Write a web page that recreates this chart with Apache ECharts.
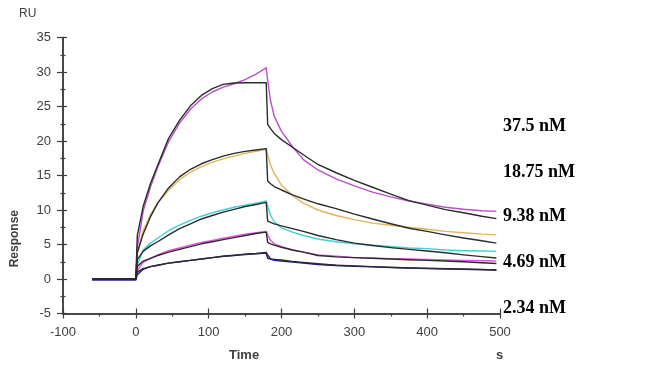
<!DOCTYPE html>
<html><head><meta charset="utf-8">
<script src="https://cdn.jsdelivr.net/npm/echarts@6/dist/echarts.min.js"></script>
<style>html,body{margin:0;padding:0;background:#fff}#c{width:650px;height:376px}</style>
</head><body><div id="c"></div>
<script>
// time points (s)
const T = [-60,-30,0,2,10,20,30,45,60,75,90,105,120,135,150,165,179,181,185,190,200,215,230,250,275,300,325,350,375,400,425,450,475,495];
// concentration labels
const concLabels = ['37.5 nM','18.75 nM','9.38 nM','4.69 nM','2.34 nM'];
// measured data (RU)
const data375 = [-0.1,-0.1,-0.1,4.5,9.8,13.3,16.2,19.9,22.6,24.6,26.1,27.1,27.8,28.3,28.9,29.7,30.6,28.8,25.8,23.6,21.4,19.2,17.3,15.8,14.5,13.5,12.6,11.9,11.3,10.85,10.4,10.1,9.9,9.8];
const data1875 = [-0.1,-0.1,-0.1,3.8,7.0,9.3,11.0,12.9,14.4,15.5,16.3,16.9,17.4,17.8,18.2,18.5,18.8,18.0,16.5,15.3,13.6,12.1,11.0,10.0,9.2,8.6,8.1,7.8,7.5,7.2,6.9,6.7,6.5,6.4];
const data938 = [-0.1,-0.1,-0.1,2.0,4.2,5.2,5.9,7.0,7.8,8.5,9.1,9.6,10.0,10.4,10.7,11.0,11.3,10.6,9.2,8.3,7.4,6.8,6.3,5.8,5.4,5.1,4.9,4.7,4.5,4.4,4.2,4.1,4.05,4.0];
const data469 = [-0.1,-0.1,-0.1,1.2,2.4,3.0,3.5,4.1,4.5,4.9,5.3,5.6,5.9,6.2,6.5,6.7,6.9,6.4,5.6,5.1,4.7,4.2,3.9,3.5,3.3,3.1,3.0,2.95,2.9,2.85,2.75,2.7,2.65,2.6];
const data234 = [-0.1,-0.1,-0.1,0.6,1.4,1.8,2.0,2.3,2.5,2.7,2.9,3.1,3.3,3.45,3.6,3.7,3.85,3.5,2.9,2.7,2.6,2.45,2.3,2.1,1.95,1.85,1.75,1.65,1.6,1.5,1.45,1.4,1.35,1.3];
// fitted curves (RU)
const fit375 = [0,0,0,6.3,10.5,13.8,16.5,20.4,23.0,25.1,26.6,27.6,28.2,28.4,28.45,28.45,28.45,22.4,21.8,21.1,20.2,19.1,18.0,16.6,15.4,14.3,13.3,12.3,11.35,10.7,10.05,9.6,9.1,8.75];
const fit1875 = [0,0,0,3.8,6.5,9.0,11.0,13.2,14.8,15.9,16.7,17.3,17.8,18.2,18.5,18.7,18.9,14.2,13.8,13.4,12.9,12.2,11.6,10.9,10.2,9.4,8.7,8.0,7.35,6.9,6.4,5.95,5.55,5.2];
const fit938 = [0,0,0,2.8,4.0,4.8,5.4,6.4,7.3,8.0,8.7,9.2,9.7,10.1,10.5,10.8,11.1,8.4,8.2,8.0,7.7,7.3,6.9,6.3,5.7,5.2,4.85,4.55,4.3,4.05,3.8,3.5,3.25,3.05];
const fit469 = [0,0,0,1.8,2.6,3.0,3.4,3.9,4.3,4.7,5.1,5.4,5.7,6.0,6.3,6.6,6.8,5.3,5.1,4.9,4.6,4.2,3.9,3.4,3.2,3.1,3.0,2.9,2.8,2.7,2.6,2.5,2.35,2.25];
const fit234 = [0,0,0,1.0,1.5,1.8,2.0,2.3,2.5,2.7,2.9,3.1,3.3,3.4,3.55,3.65,3.75,3.0,2.9,2.85,2.75,2.55,2.4,2.2,2.0,1.9,1.8,1.7,1.6,1.55,1.5,1.45,1.4,1.3];

const dataColors = ['#b94fc9','#e3b45a','#3fd0d0','#e84ee6','#1c1ca0'];
const dataSets = [data375,data1875,data938,data469,data234];
const fitSets = [fit375,fit1875,fit938,fit469,fit234];
const pairs = v => T.map((t,i)=>[t,v[i]]);

const series = [];
dataSets.forEach((d,i)=>series.push({type:'line',data:pairs(d),showSymbol:false,silent:true,
  lineStyle:{color:dataColors[i],width:1.4,join:'round'},z:2}));
fitSets.forEach((d,i)=>series.push({type:'line',data:pairs(d),showSymbol:false,silent:true,
  lineStyle:{color:'#2b2b2b',width:1.4,join:'round'},z:3}));

const axisCol = '#3c3c3c';
const labelFont = {color:'#404040',fontFamily:'Liberation Sans, Arial',fontSize:13};
function xAx(inside, show){return {type:'value',min:-100,max:500,interval:100,position:'bottom',
  axisLine:{show:true,onZero:false,lineStyle:{color:axisCol,width:1.5}},
  axisTick:{show:true,inside:inside,length:5,lineStyle:{color:axisCol,width:1.2}},
  minorTick:{show:!inside,splitNumber:2,length:3,lineStyle:{color:axisCol,width:1.2}},
  axisLabel:Object.assign({show:show,margin:12},labelFont),splitLine:{show:false}};}
function yAx(inside, show){return {type:'value',min:-5,max:35,interval:5,position:'left',
  axisLine:{show:true,onZero:false,lineStyle:{color:axisCol,width:1.5}},
  axisTick:{show:true,inside:inside,length:inside?4:6,lineStyle:{color:axisCol,width:1.2}},
  minorTick:{show:true,splitNumber:2,length:2.5,lineStyle:{color:axisCol,width:1.2}},
  axisLabel:Object.assign({show:show,margin:12},labelFont),splitLine:{show:false}};}

const graphics = concLabels.map((s,i)=>({type:'text',left:503,top:[117,163,207,253,299][i],
  style:{text:s,font:'bold 18px "Liberation Serif", "Times New Roman", serif',fill:'#000'}}));
graphics.push({type:'text',left:19,top:8,style:{text:'RU',font:'12px "Liberation Sans", Arial',fill:'#404040'}});
graphics.push({type:'text',left:9,top:210,rotation:Math.PI/2,style:{text:'Response',font:'bold 12px "Liberation Sans", Arial',fill:'#404040'}});
graphics.push({type:'text',left:229,top:349,style:{text:'Time',font:'bold 13px "Liberation Sans", Arial',fill:'#404040'}});
graphics.push({type:'text',left:496,top:349,style:{text:'s',font:'bold 13px "Liberation Sans", Arial',fill:'#404040'}});

const chart = echarts.init(document.getElementById('c'),null,{renderer:'canvas'});
chart.setOption({
  animation:false,backgroundColor:'#fff',
  grid:{left:63,right:150,top:37.5,bottom:62.5,containLabel:false},
  xAxis:[xAx(false,true),xAx(true,false)],
  yAxis:[yAx(false,true),yAx(true,false)],
  series:series,
  graphic:graphics
});
</script></body></html>
